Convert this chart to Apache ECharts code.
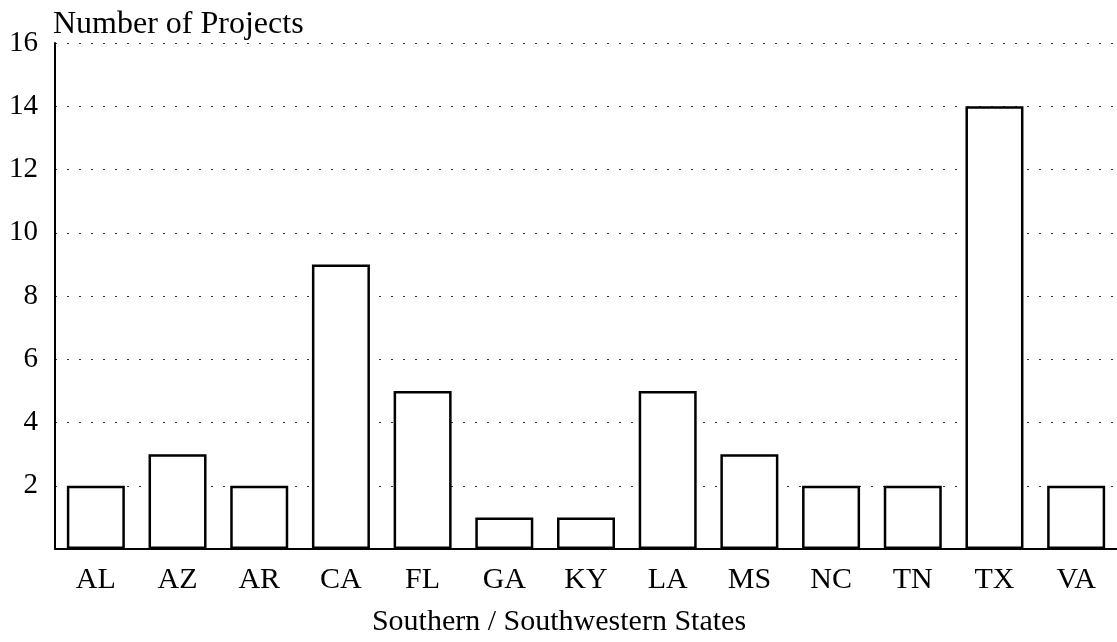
<!DOCTYPE html>
<html>
<head>
<meta charset="utf-8">
<script src="https://cdn.jsdelivr.net/npm/echarts@6/dist/echarts.min.js"></script>
<style>
  html, body { margin: 0; padding: 0; background: #fff; }
  #chart { width: 1117px; height: 642px; }
</style>
</head>
<body>
<div id="chart"></div>
<script>
// projects per state
const states = ["AL", "AZ", "AR", "CA", "FL", "GA", "KY", "LA", "MS", "NC", "TN", "TX", "VA"];
const projects = [2, 3, 2, 9, 5, 1, 1, 5, 3, 2, 2, 14, 2];

const serif = "Liberation Serif";
const chart = echarts.init(document.getElementById("chart"));

const option = {
  backgroundColor: "#fff",
  animation: false,
  grid: {
    left: 55,
    right: -5,
    top: 43,
    bottom: 91,
  },
  xAxis: {
    type: "category",
    data: states,
    name: "Southern / Southwestern States",
    nameLocation: "middle",
    nameGap: 58,
    nameTextStyle: {
      fontFamily: serif,
      fontSize: 30,
      color: "#000",
      padding: [0, 54, 0, 0],
    },
    axisLine: { lineStyle: { color: "#000", width: 2 } },
    axisTick: { show: false },
    axisLabel: {
      fontFamily: serif,
      fontSize: 30,
      color: "#000",
      margin: 16,
    },
  },
  yAxis: {
    type: "value",
    min: 0,
    max: 16,
    interval: 2,
    name: "Number of Projects",
    nameLocation: "end",
    nameGap: 2,
    nameTextStyle: {
      fontFamily: serif,
      fontSize: 32,
      color: "#000",
      align: "left",
      verticalAlign: "bottom",
      padding: [0, 0, 0, -2],
    },
    axisLine: { show: true, lineStyle: { color: "#000", width: 2 } },
    axisTick: { show: false },
    axisLabel: {
      fontFamily: serif,
      fontSize: 29,
      color: "#000",
      margin: 17,
      showMinLabel: false,
    },
    splitLine: {
      lineStyle: { color: "#333", type: [2, 10], width: 1 },
    },
  },
  series: [
    {
      name: "Projects",
      type: "bar",
      data: projects,
      barWidth: 58,
      itemStyle: {
        color: "#fff",
        borderColor: "#000",
        borderWidth: 2.5,
      },
    },
  ],
};

chart.setOption(option);
window.addEventListener("resize", () => chart.resize());
</script>
</body>
</html>
